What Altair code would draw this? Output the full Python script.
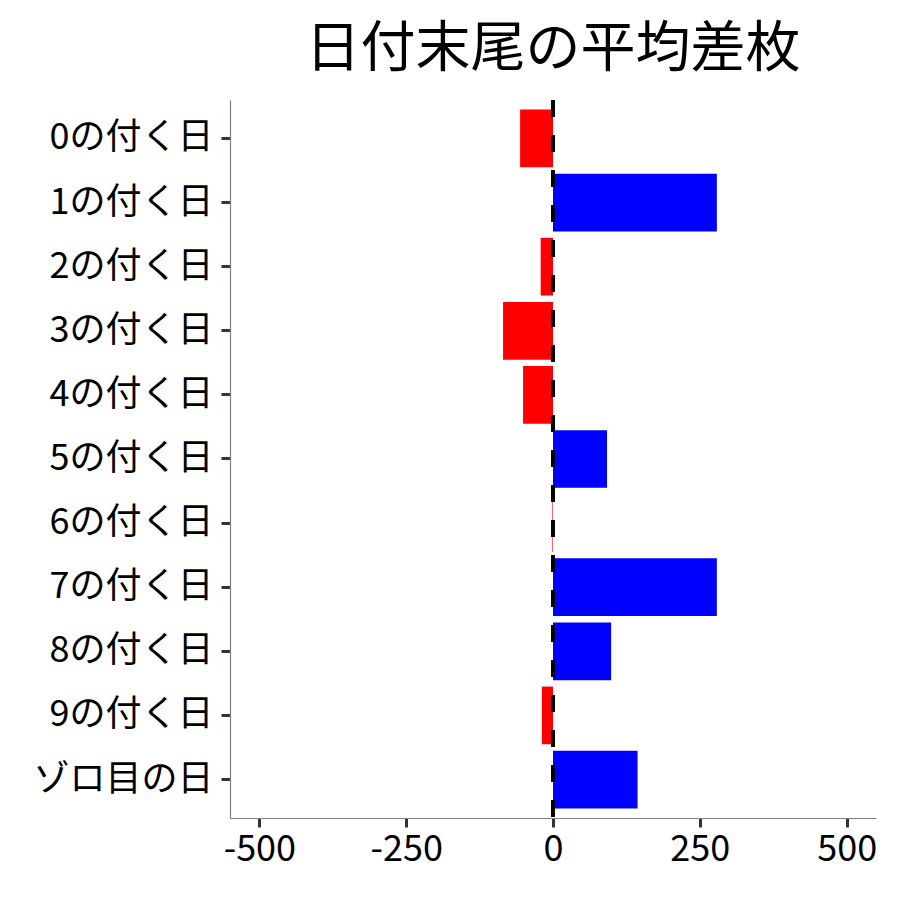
import altair as alt
import pandas as pd

categories = ["0の付く日", "1の付く日", "2の付く日", "3の付く日", "4の付く日",
              "5の付く日", "6の付く日", "7の付く日", "8の付く日", "9の付く日", "ゾロ目の日"]
values = [-56, 279, -21, -85, -51, 92, -1, 279, 99, -19, 144]
tick_values = [-500, -250, 0, 250, 500]

df = pd.DataFrame({"cat": categories, "val": values})
df["sign"] = ["neg" if v < 0 else "pos" for v in values]

FONT = "Noto Sans CJK JP"

bars = alt.Chart(df).mark_bar().encode(
    y=alt.Y("cat:N", sort=categories, title=None,
            scale=alt.Scale(paddingInner=0.1, paddingOuter=0.15),
            axis=alt.Axis(labelFontSize=36, labelFont=FONT, labelColor="black",
                          labelLimit=400,
                          domainColor="#808080", domainWidth=1.2,
                          tickColor="#333333", tickWidth=3, tickSize=9,
                          labelPadding=8, grid=False)),
    x=alt.X("val:Q", title=None,
            scale=alt.Scale(domain=[-550, 550], nice=False, zero=False),
            axis=alt.Axis(values=tick_values, labelFontSize=36, labelFont=FONT,
                          labelExpr="datum.value < 0 ? '-' + abs(datum.value) : '' + datum.value",
                          labelColor="black", domainColor="#808080", domainWidth=1.2,
                          tickColor="#333333", tickWidth=3, tickSize=9,
                          labelPadding=5, grid=False)),
    color=alt.Color("sign:N", scale=alt.Scale(domain=["neg", "pos"],
                                              range=["#FF0000", "#0000FF"]),
                    legend=None),
)

rule = alt.Chart(df).mark_rule(color="black", strokeWidth=3.5,
                               strokeDash=[17, 18]).encode(x=alt.datum(0))

chart = (bars + rule).properties(
    width=646, height=718,
    title=alt.Title("日付末尾の平均差枚", fontSize=55, font=FONT, fontWeight="normal",
                    color="black", anchor="middle", offset=20),
    autosize=alt.AutoSizeParams(type="none"),
    padding={"left": 222, "top": 92, "right": 16, "bottom": 74},
).configure_view(stroke=None)

chart.save("out.html", embed_options={"renderer": "svg", "actions": False})
